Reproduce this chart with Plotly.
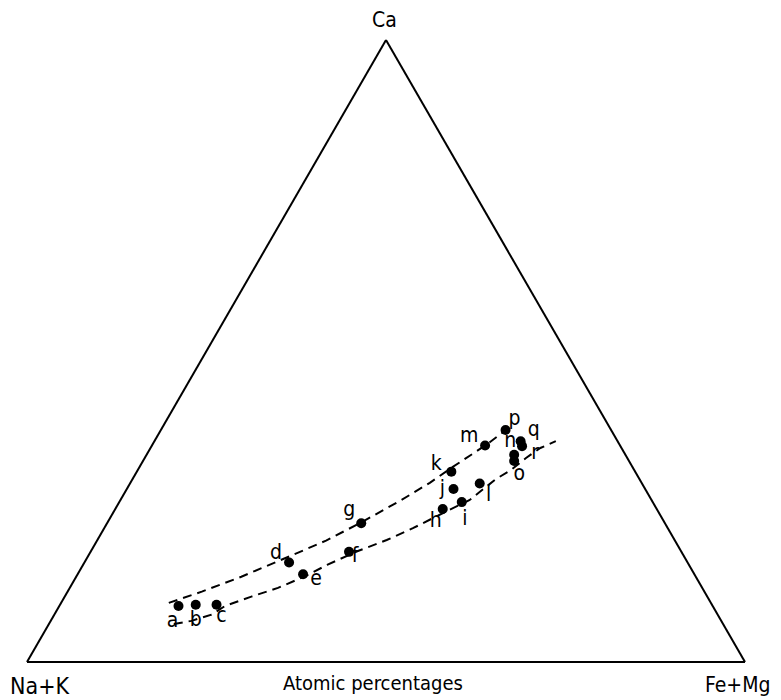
import plotly.graph_objects as go

OFF = 8  # page body margin in the browser
W, H = 781 - OFF, 700 - OFF  # keep the page from overflowing the window

# Sample points (atomic percentages): Ca, Na+K, Fe+Mg
labels = ["a", "b", "c", "d", "e", "f", "g", "h", "i", "j", "k", "l", "m", "p", "n", "o", "q", "r"]
ca     = [9.0, 9.2, 9.2, 16.0, 14.1, 17.7, 22.3, 24.6, 25.7, 27.8, 30.6, 28.7, 34.8, 37.3, 33.3, 32.3, 35.5, 34.7]
femg   = [16.6, 18.9, 21.8, 28.5, 31.4, 36.0, 35.4, 45.6, 47.7, 45.5, 43.8, 48.7, 46.4, 48.0, 51.2, 51.7, 51.0, 51.6]
nak    = [round(100 - c - f, 1) for c, f in zip(ca, femg)]

# Label offsets from their point, in screen pixels (style only)
lab_dx = [-6, 0, 5, -13, 13, 6, -12, -7, 3, -11, -15, 9, -16, 9, -4, 5, 13, 13]
lab_dy = [16, 16, 12, -9, 6, 5, -12, 13, 18, 1, -7, 12, -9, -10, -13, 14, -10, 8]

# Dashed envelope lines
upper_ca   = [9.5, 11.3, 13.7, 17.2, 19.5, 22.5, 25.9, 28.8, 31.2, 34.9, 37.8]
upper_femg = [15.0, 18.7, 23.0, 28.4, 31.9, 35.4, 39.0, 41.7, 43.5, 46.5, 48.4]
upper_nak  = [round(100 - c - f, 1) for c, f in zip(upper_ca, upper_femg)]

lower_ca   = [6.1, 6.6, 7.6, 9.0, 10.5, 11.9, 13.8, 15.6, 17.8, 19.6, 21.5, 24.3, 26.0, 29.4, 30.9, 32.8, 34.4, 35.5]
lower_femg = [17.4, 19.6, 21.9, 23.1, 26.0, 29.0, 31.9, 34.0, 37.1, 40.3, 43.0, 46.4, 48.6, 50.6, 52.0, 53.1, 54.3, 55.9]
lower_nak  = [round(100 - c - f, 1) for c, f in zip(lower_ca, lower_femg)]

FONT = "DejaVu Sans Condensed, DejaVu Sans, sans-serif"

# triangle placement (window pixels)
TRI_LEFT, TRI_RIGHT, TRI_TOP, TRI_BASE = 27, 745, 40, 662
SIDE = TRI_RIGHT - TRI_LEFT
HEIGHT = TRI_BASE - TRI_TOP

# convert pixel offsets into ternary offsets through the triangle's scale
lab_ca, lab_fm, lab_nk = [], [], []
for c0, f0, dx, dy in zip(ca, femg, lab_dx, lab_dy):
    dca = -dy * 100 / HEIGHT
    dfm = (dx - dca * SIDE / 200) * 100 / SIDE
    lab_ca.append(c0 + dca)
    lab_fm.append(f0 + dfm)
    lab_nk.append(100 - (c0 + dca) - (f0 + dfm))

fig = go.Figure()
for a_, b_, c_ in [(upper_ca, upper_nak, upper_femg), (lower_ca, lower_nak, lower_femg)]:
    fig.add_trace(go.Scatterternary(
        a=a_, b=b_, c=c_, mode="lines",
        line=dict(color="black", width=2, dash="9px,6px"),
        hoverinfo="skip", showlegend=False))

fig.add_trace(go.Scatterternary(
    a=ca, b=nak, c=femg, mode="markers",
    marker=dict(color="black", size=10),
    hoverinfo="skip", showlegend=False))

fig.add_trace(go.Scatterternary(
    a=lab_ca, b=lab_nk, c=lab_fm, mode="text",
    text=labels, textposition="middle center",
    textfont=dict(family=FONT, size=21, color="black"),
    hoverinfo="skip", showlegend=False, cliponaxis=False))

axis_style = dict(showticklabels=False, showgrid=False, ticks="", linecolor="black",
                  linewidth=2, title=dict(text=""), min=0)

def fx(px):
    return (px - OFF) / W

def fy(py):
    return 1 - (py - OFF) / H

fig.update_layout(
    width=W, height=H,
    margin=dict(l=0, r=0, t=0, b=0),
    paper_bgcolor="white",
    ternary=dict(
        sum=100,
        bgcolor="white",
        domain=dict(x=[fx(TRI_LEFT), fx(TRI_RIGHT)], y=[fy(TRI_BASE), fy(TRI_TOP)]),
        aaxis=axis_style, baxis=axis_style, caxis=axis_style,
    ),
    font=dict(family=FONT, color="black"),
)

annots = [
    ("Ca", 384, 20, 21),
    ("Na+K", 39, 686, 23),
    ("Fe+Mg", 737, 685, 21),
    ("Atomic percentages", 373, 683, 20),
]
for txt, px, py, sz in annots:
    fig.add_annotation(text=txt, x=fx(px), y=fy(py), xref="paper", yref="paper",
                       showarrow=False, xanchor="center", yanchor="middle",
                       font=dict(family=FONT, size=sz, color="black"))

fig.write_html("out.html")
